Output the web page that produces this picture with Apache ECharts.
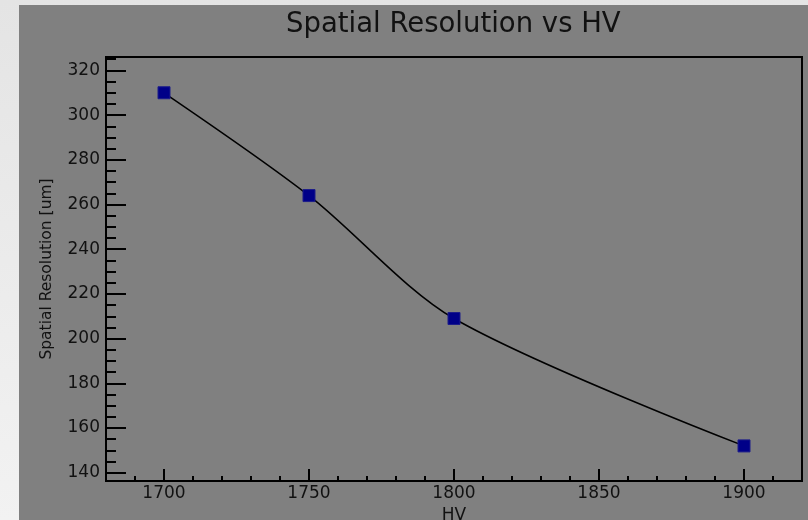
<!DOCTYPE html>
<html>
<head>
<meta charset="utf-8">
<script src="https://cdn.jsdelivr.net/npm/echarts@6/dist/echarts.min.js"></script>
<style>html,body{margin:0;padding:0;background:#e8e8e8;}#c{width:808px;height:520px;}</style>
</head>
<body>
<div id="c"></div>
<script>
const hv = [1700, 1750, 1800, 1900];
const resolution = [310, 264, 209, 152];
const xMajorTicks = [1700, 1750, 1800, 1850, 1900];
const xMinorTicks = [1690, 1700, 1710, 1720, 1730, 1740, 1750, 1760, 1770, 1780, 1790, 1800, 1810, 1820, 1830, 1840, 1850, 1860, 1870, 1880, 1890, 1900, 1910];
const yMajorTicks = [140, 160, 180, 200, 220, 240, 260, 280, 300, 320];
const yMinorTicks = [140, 145, 150, 155, 160, 165, 170, 175, 180, 185, 190, 195, 200, 205, 210, 215, 220, 225, 230, 235, 240, 245, 250, 255, 260, 265, 270, 275, 280, 285, 290, 295, 300, 305, 310, 315, 320, 325];
const titleText = 'Spatial Resolution vs HV';
const xName = 'HV';
const yName = 'Spatial Resolution [um]';

const FONT = 'DejaVu Sans';
const chart = echarts.init(document.getElementById('c'), null, {renderer: 'canvas'});
const xMin = 1680, xMax = 1920, yMin = 136.3, yMax = 326;
const plain = v => String(v);

const baseX = {type: 'value', min: xMin, max: xMax, position: 'bottom', splitLine: {show: false}};
const baseY = {type: 'value', min: yMin, max: yMax, position: 'left', splitLine: {show: false}};

chart.setOption({
  animation: false,
  backgroundColor: {
    type: 'linear', x: 0, y: 0, x2: 0, y2: 1,
    colorStops: [{offset: 0, color: '#e4e4e4'}, {offset: 1, color: '#f2f2f2'}]
  },
  graphic: [{
    type: 'rect', z: -10, silent: true,
    shape: {x: 19, y: 5, width: 789, height: 515},
    style: {fill: '#808080'}
  }],
  title: {
    text: titleText, left: 281, top: 6,
    textStyle: {fontFamily: FONT, fontSize: 27.5, fontWeight: 'normal', color: '#111'}
  },
  grid: {
    left: 106, top: 57, right: 6, bottom: 39,
    outerBoundsMode: 'none', containLabel: false,
    show: true, borderColor: '#000', borderWidth: 2, backgroundColor: 'transparent'
  },
  xAxis: [
    Object.assign({}, baseX, {
      name: xName, nameLocation: 'middle', nameGap: 18,
      nameTextStyle: {fontFamily: FONT, fontSize: 17, color: '#111'},
      axisLine: {show: true, lineStyle: {color: '#000', width: 2}},
      axisTick: {show: true, inside: true, length: 12, customValues: xMajorTicks, lineStyle: {color: '#000', width: 2}},
      axisLabel: {show: true, customValues: xMajorTicks, formatter: plain, margin: 4, fontFamily: FONT, fontSize: 17, color: '#111'}
    }),
    Object.assign({}, baseX, {
      axisLine: {show: false},
      axisTick: {show: true, inside: true, length: 5, customValues: xMinorTicks, lineStyle: {color: '#000', width: 2}},
      axisLabel: {show: false}
    })
  ],
  yAxis: [
    Object.assign({}, baseY, {
      name: yName, nameLocation: 'middle', nameGap: 51, nameRotate: 90,
      nameTextStyle: {fontFamily: FONT, fontSize: 15.5, color: '#111'},
      axisLine: {show: true, lineStyle: {color: '#000', width: 2}},
      axisTick: {show: true, inside: true, length: 20, customValues: yMajorTicks, lineStyle: {color: '#000', width: 2}},
      axisLabel: {show: true, customValues: yMajorTicks, formatter: plain, margin: 6, fontFamily: FONT, fontSize: 17, color: '#111'}
    }),
    Object.assign({}, baseY, {
      axisLine: {show: false},
      axisTick: {show: true, inside: true, length: 10, customValues: yMinorTicks, lineStyle: {color: '#000', width: 2}},
      axisLabel: {show: false}
    })
  ],
  series: [{
    type: 'line',
    data: hv.map((v, i) => [v, resolution[i]]),
    smooth: 0.3,
    symbol: 'rect', symbolSize: 12,
    lineStyle: {color: '#000', width: 1.5},
    itemStyle: {color: '#000088', borderColor: '#1c1c8a', borderWidth: 1},
    z: 5
  }]
});
</script>
</body>
</html>
